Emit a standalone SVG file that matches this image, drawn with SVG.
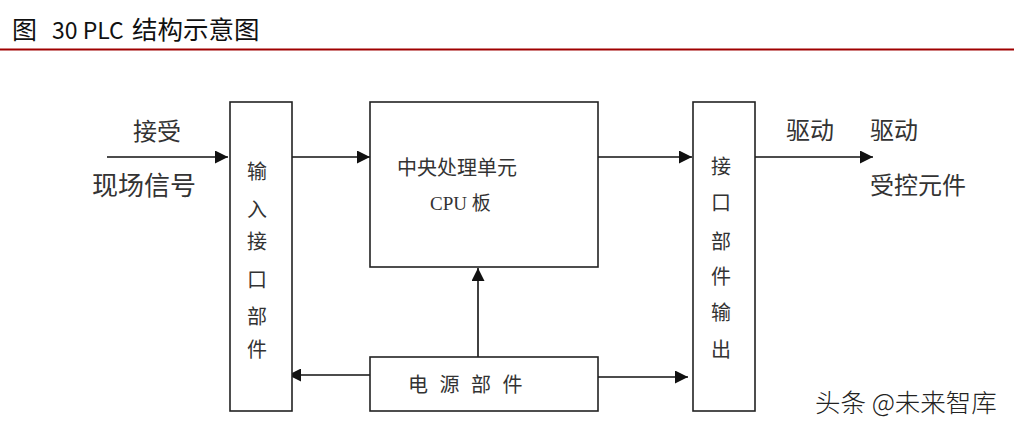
<svg xmlns="http://www.w3.org/2000/svg" width="1014" height="427" viewBox="0 0 1014 427">
<style>
.box{fill:#fff;stroke:#222;stroke-width:1.6}
.ln{stroke:#111;stroke-width:1.6;fill:none}
.t{font-family:"Noto Sans CJK SC","Liberation Sans",sans-serif;fill:#333}
.v{font-size:20px;text-anchor:middle}
.lab{font-size:24px}
.ttl{font-family:"Noto Sans CJK SC","Noto Sans",sans-serif;fill:#111}
</style>
<defs>
<marker id="ah" viewBox="0 0 10 10" refX="10" refY="5" markerWidth="15" markerHeight="13" markerUnits="userSpaceOnUse" orient="auto">
<path d="M0,0 L10,5 L0,10 z" fill="#111"/>
</marker>
</defs>
<rect width="1014" height="427" fill="#fff"/>
<g id="title">
<text class="ttl" x="12" y="39" font-size="25">图</text>
<text class="ttl" x="52" y="39" font-size="23">30 PLC</text>
<text class="ttl" x="132" y="39" font-size="25.5">结构示意图</text>
<line x1="0" y1="49.5" x2="1014" y2="49.5" stroke="#A00000" stroke-width="2"/>
</g>
<g id="connectors">
<line class="ln" x1="107" y1="157" x2="228" y2="157" marker-end="url(#ah)"/>
<line class="ln" x1="288" y1="157" x2="370" y2="157" marker-end="url(#ah)"/>
<line class="ln" x1="598" y1="157" x2="692" y2="157" marker-end="url(#ah)"/>
<line class="ln" x1="754" y1="157" x2="873" y2="157" marker-end="url(#ah)"/>
<line class="ln" x1="370" y1="375" x2="288" y2="375" marker-end="url(#ah)"/>
<line class="ln" x1="598" y1="377" x2="688" y2="377" marker-end="url(#ah)"/>
<line class="ln" x1="478" y1="357" x2="478" y2="268" marker-end="url(#ah)"/>
</g>
<g id="input-interface">
<rect class="box" x="230" y="102" width="62" height="309"/>
<text class="t v" x="257" y="179">输</text>
<text class="t v" x="257" y="217">入</text>
<text class="t v" x="257" y="249">接</text>
<text class="t v" x="257" y="287">口</text>
<text class="t v" x="257" y="324">部</text>
<text class="t v" x="257" y="357">件</text>
</g>
<g id="cpu">
<rect class="box" x="370" y="102" width="228" height="165"/>
<text class="t" x="457" y="175" font-size="20" text-anchor="middle">中央处理单元</text>
<text x="430" y="210" font-family="'Liberation Serif','Noto Serif CJK SC','Noto Sans CJK SC',serif" font-size="19" fill="#333">CPU <tspan font-family="'Noto Sans CJK SC',sans-serif">板</tspan></text>
</g>
<g id="power">
<rect class="box" x="370" y="357" width="228" height="54"/>
<text class="t" x="408" y="392" font-size="20" letter-spacing="11.5">电源部件</text>
</g>
<g id="output-interface">
<rect class="box" x="693" y="102" width="62" height="309"/>
<text class="t v" x="721" y="174">接</text>
<text class="t v" x="721" y="210">口</text>
<text class="t v" x="721" y="249">部</text>
<text class="t v" x="721" y="284">件</text>
<text class="t v" x="721" y="320">输</text>
<text class="t v" x="721" y="357">出</text>
</g>
<g id="labels">
<text class="t lab" x="133" y="140">接受</text>
<text class="t lab" x="92" y="195" style="font-size:26px">现场信号</text>
<text class="t lab" x="786" y="139">驱动</text>
<text class="t lab" x="870" y="139">驱动</text>
<text class="t lab" x="870" y="194">受控元件</text>
</g>
<g id="watermark">
<text x="815" y="412" font-family="'Noto Sans CJK SC',sans-serif" font-size="25.5" font-weight="300" fill="#222">头条 @未来智库</text>
</g>
</svg>
